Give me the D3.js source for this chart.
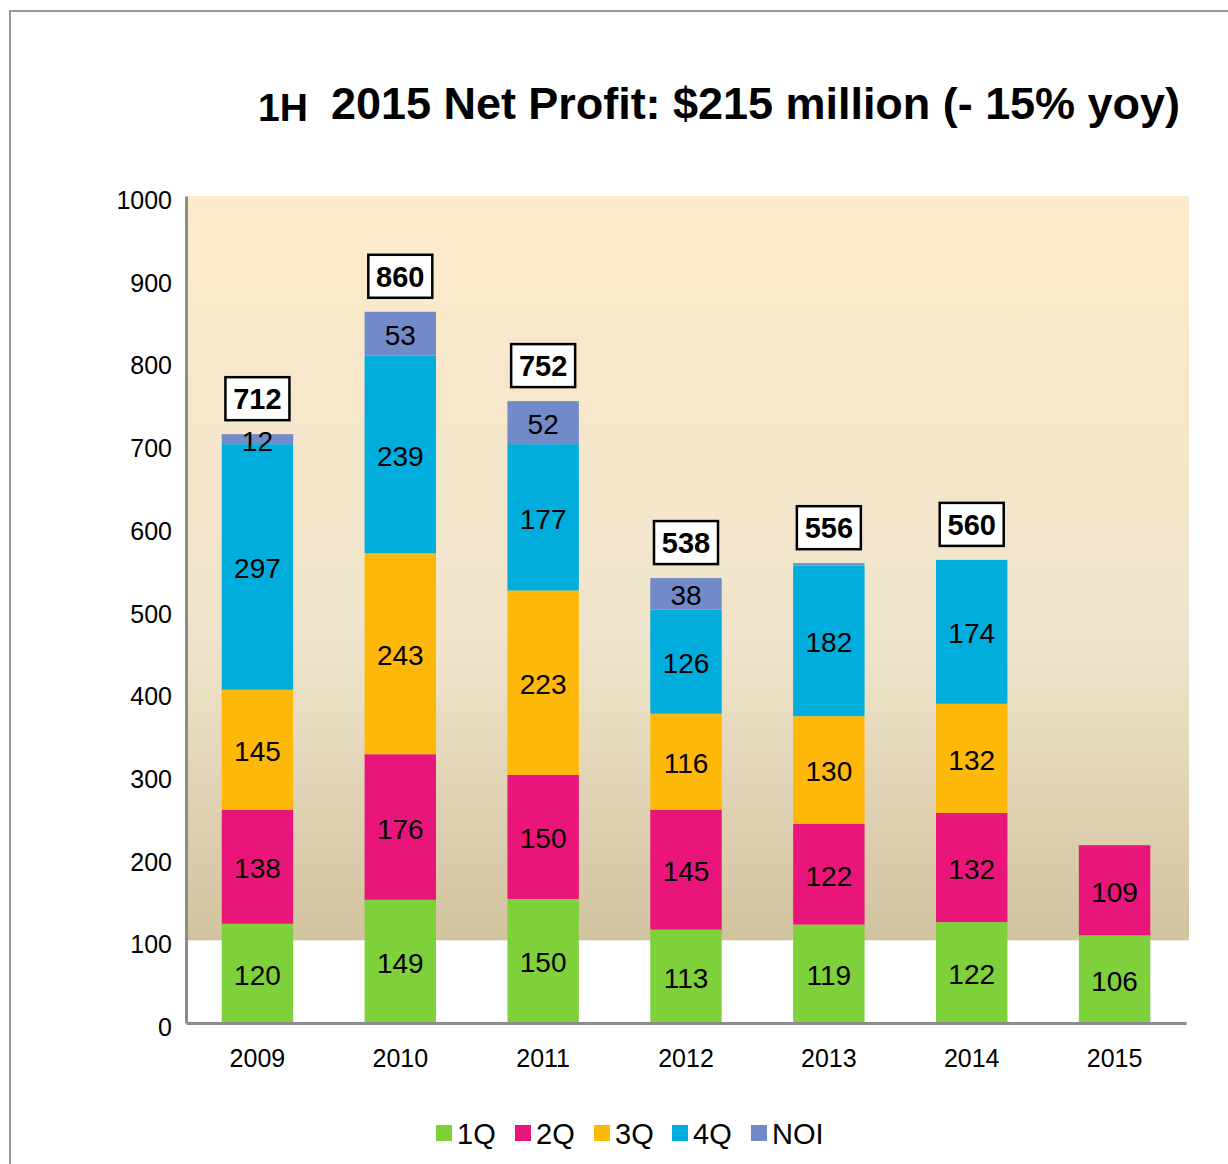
<!DOCTYPE html>
<html>
<head>
<meta charset="utf-8">
<script src="https://cdn.jsdelivr.net/npm/d3@7"></script>
<style>
  body { margin: 0; background: #fff; }
  text { font-family: "Liberation Sans", Arial, sans-serif; }
</style>
</head>
<body>
<svg id="drawing_region"></svg>
<script>
// data
const years = ["2009", "2010", "2011", "2012", "2013", "2014", "2015"];
const series = ["1Q", "2Q", "3Q", "4Q", "NOI"];
const q1 = [120, 149, 150, 113, 119, 122, 106];
const q2 = [138, 176, 150, 145, 122, 132, 109];
const q3 = [145, 243, 223, 116, 130, 132, 0];
const q4 = [297, 239, 177, 126, 182, 174, 0];
const noi = [12, 53, 52, 38, 3, 0, 0];
const totals = [712, 860, 752, 538, 556, 560, null];
const yTicks = [0, 100, 200, 300, 400, 500, 600, 700, 800, 900, 1000];
const colors = ["#7fd13b", "#ea157a", "#feb80a", "#00addc", "#738ac8"];

const config = {
    width: 1228,
    height: 1164,
    left: 186, right: 1186, top: 196, bottom: 1023
};

const table = years.map((y, i) => ({
    year: y, "1Q": q1[i], "2Q": q2[i], "3Q": q3[i], "4Q": q4[i], "NOI": noi[i], total: totals[i]
}));

const svg = d3.select("#drawing_region")
    .attr("width", config.width)
    .attr("height", config.height);

// outer frame
svg.append("rect")
    .attr("x", 10).attr("y", 11)
    .attr("width", 1240).attr("height", 1200)
    .attr("fill", "none")
    .attr("stroke", "#999").attr("stroke-width", 2);

const x = d3.scaleBand().domain(years)
    .range([config.left, config.right]).paddingInner(0.5).paddingOuter(0.25);
const y = d3.scaleLinear().domain([0, 1000]).range([config.bottom, config.top]);

// gradient background (100 to 1000)
const grad = svg.append("defs").append("linearGradient")
    .attr("id", "bg").attr("x1", 0).attr("y1", 0).attr("x2", 0).attr("y2", 1);
grad.append("stop").attr("offset", "0%").attr("stop-color", "#fdebcb");
grad.append("stop").attr("offset", "60%").attr("stop-color", "#efe4cb");
grad.append("stop").attr("offset", "100%").attr("stop-color", "#d2c39f");

svg.append("rect")
    .attr("x", config.left + 1).attr("y", y(1000))
    .attr("width", 1002).attr("height", y(100) - y(1000))
    .attr("fill", "url(#bg)");

// title
svg.append("text")
    .attr("x", 258).attr("y", 121)
    .attr("font-weight", "bold").attr("font-size", 39)
    .text("1H");
svg.append("text")
    .attr("x", 331).attr("y", 119)
    .attr("font-weight", "bold").attr("font-size", 45)
    .attr("textLength", 849).attr("lengthAdjust", "spacing")
    .text("2015 Net Profit: $215 million (- 15% yoy)");

// stacked bars
const stack = d3.stack().keys(series)(table);

const layer = svg.append("g").selectAll("g")
    .data(stack).join("g")
    .attr("fill", (d, i) => colors[i]);

layer.selectAll("rect")
    .data(d => d.filter(s => s[1] - s[0] > 0))
    .join("rect")
    .attr("x", d => x(d.data.year))
    .attr("y", d => y(d[1]))
    .attr("width", x.bandwidth())
    .attr("height", d => y(d[0]) - y(d[1]));

// segment labels
layer.selectAll("text")
    .data(d => d.filter(s => s[1] - s[0] >= 10))
    .join("text")
    .attr("x", d => x(d.data.year) + x.bandwidth() / 2)
    .attr("y", d => (y(d[0]) + y(d[1])) / 2 + 2)
    .attr("text-anchor", "middle")
    .attr("dominant-baseline", "central")
    .attr("font-size", 28)
    .attr("fill", "#000")
    .text(d => d[1] - d[0]);

// axes
const yAxis = svg.append("g")
    .attr("transform", `translate(${config.left},0)`)
    .call(d3.axisLeft(y).tickValues(yTicks).tickFormat(d3.format("d")).tickSize(0).tickPadding(14));
yAxis.select(".domain").attr("stroke", "#8c8c8c").attr("stroke-width", 3);
yAxis.selectAll("text").attr("font-size", 25).attr("fill", "#000").attr("dy", "0.5em")
    .attr("font-family", "Liberation Sans, Arial, sans-serif");

const xAxis = svg.append("g")
    .attr("transform", `translate(0,${config.bottom})`)
    .call(d3.axisBottom(x).tickSize(0).tickPadding(26));
xAxis.select(".domain").attr("stroke", "#8c8c8c").attr("stroke-width", 3);
xAxis.selectAll("text").attr("font-size", 25).attr("fill", "#000")
    .attr("font-family", "Liberation Sans, Arial, sans-serif");

// total boxes
const tot = svg.append("g").selectAll("g")
    .data(table.filter(d => d.total !== null)).join("g")
    .attr("transform", d => `translate(${x(d.year) + x.bandwidth() / 2},${y(d.total) - 35})`);
tot.append("rect")
    .attr("x", -32).attr("y", -22).attr("width", 64).attr("height", 43)
    .attr("fill", "#fff").attr("stroke", "#000").attr("stroke-width", 2.5);
tot.append("text")
    .attr("text-anchor", "middle").attr("dominant-baseline", "central")
    .attr("y", 0)
    .attr("font-size", 29).attr("font-weight", "bold")
    .text(d => d.total);

// legend
const legendX = [436, 515, 594, 672, 751];
const leg = svg.append("g").selectAll("g")
    .data(series).join("g")
    .attr("transform", (d, i) => `translate(${legendX[i]},1125)`);
leg.append("rect").attr("width", 16).attr("height", 16)
    .attr("fill", (d, i) => colors[i]);
leg.append("text").attr("x", 21).attr("y", 19)
    .attr("font-size", 29).text(d => d);
</script>
</body>
</html>
